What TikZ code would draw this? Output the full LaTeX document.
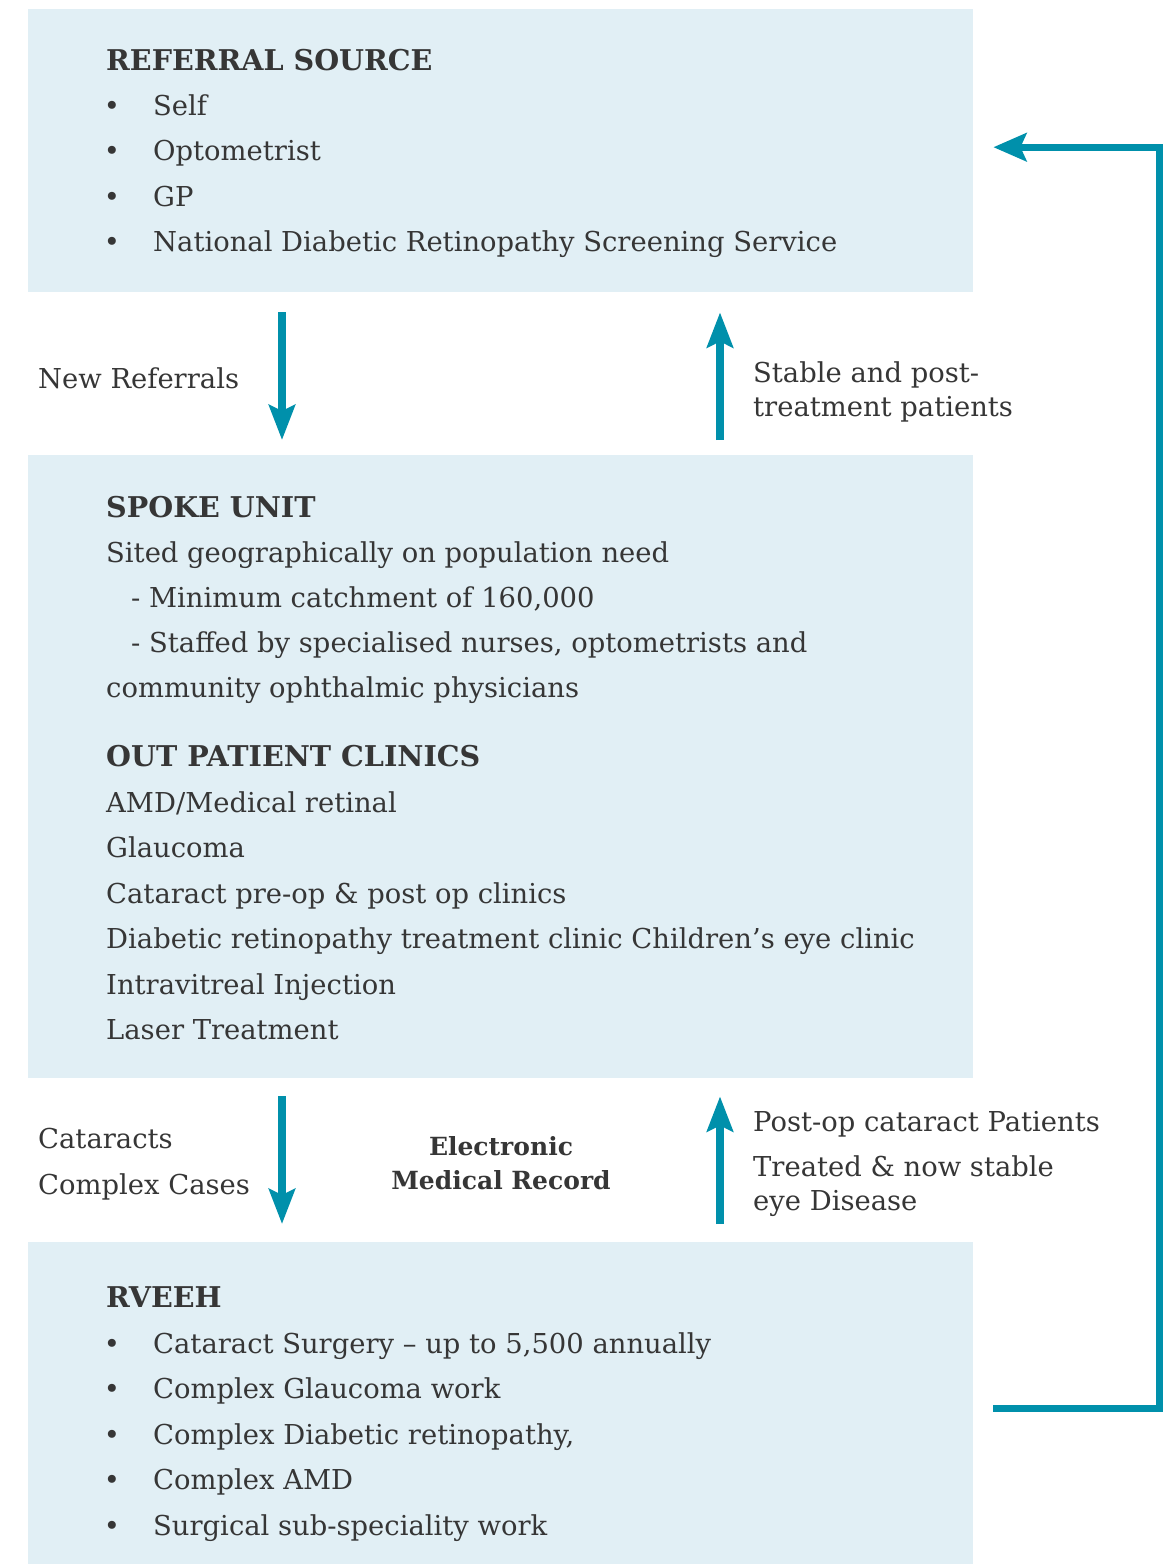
\documentclass[tikz,border=0pt]{standalone}
\usepackage{fontspec}
\setmainfont{DejaVu Serif}
\usetikzlibrary{arrows.meta}
\definecolor{boxblue}{HTML}{E1EFF5}
\definecolor{flowteal}{HTML}{0090AB}
\definecolor{ink}{HTML}{363636}
\begin{document}
\begin{tikzpicture}[x=1pt, y=-1pt, line join=miter,
  panel/.style={fill=boxblue, draw=none, anchor=north west, inner sep=0, minimum width=945pt},
  txt/.style={anchor=base west, inner sep=0, text=ink, font=\fontsize{27.4}{32}\selectfont},
  head/.style={txt, font=\fontsize{28.6}{33}\selectfont\bfseries},
  dot/.style={txt, anchor=base},
  emr/.style={txt, anchor=base, font=\fontsize{25}{29}\selectfont\bfseries},
  flow/.style={draw=flowteal, line width=8pt, -{Stealth[length=35pt,width=26pt,inset=6pt]}}]
\useasboundingbox (0,0) rectangle (1167,1564);
\def\lh{45.5}
%Ba khung
\node[panel, minimum height=283pt] (ref) at (28,9) {};
\node[panel, minimum height=623pt] (spoke) at (28,455) {};
\node[panel, minimum height=322pt] (rveeh) at (28,1242) {};
%Nguon gioi thieu
\node[head] (refhead) at (106,70) {REFERRAL SOURCE};
\foreach \t [count=\i] in {Self, Optometrist, GP, National Diabetic Retinopathy Screening Service}{
  \node[dot] (refdot\i) at (112,{115+\lh*(\i-1)}) {\textbullet};
  \node[txt] (refitem\i) at (153,{115+\lh*(\i-1)}) {\t};
}
%Spoke unit
\node[head] (spokehead) at (106,517) {SPOKE UNIT};
\node[txt] (site) at (106,562) {Sited geographically on population need};
\node[txt] (catch) at (131,607) {- Minimum catchment of 160,000};
\node[txt] (staff) at (131,652) {- Staffed by specialised nurses, optometrists and};
\node[txt] (comm) at (106,697) {community ophthalmic physicians};
\node[head] (ophead) at (106,766) {OUT PATIENT CLINICS};
\foreach \t [count=\i] in {AMD/Medical retinal, Glaucoma, Cataract pre-op \& post op clinics,
  Diabetic retinopathy treatment clinic Children’s eye clinic, Intravitreal Injection, Laser Treatment}{
  \node[txt] (clinic\i) at (106,{812+\lh*(\i-1)}) {\t};
}
%RVEEH
\node[head] (rvhead) at (106,1307) {RVEEH};
\foreach \t [count=\i] in {{Cataract Surgery – up to 5,500 annually}, Complex Glaucoma work,
  {Complex Diabetic retinopathy,}, Complex AMD, Surgical sub-speciality work}{
  \node[dot] (rvdot\i) at (112,{1353+\lh*(\i-1)}) {\textbullet};
  \node[txt] (rvitem\i) at (153,{1353+\lh*(\i-1)}) {\t};
}
%Mui ten giua cac khung
\draw[flow] ([xshift=254pt,yshift=-20pt]ref.south west) -- ([xshift=254pt,yshift=15pt]spoke.north west);
\draw[flow] ([xshift=692pt,yshift=15pt]spoke.north west) -- ([xshift=692pt,yshift=-20pt]ref.south west);
\draw[flow] ([xshift=254pt,yshift=-18pt]spoke.south west) -- ([xshift=254pt,yshift=18pt]rveeh.north west);
\draw[flow] ([xshift=692pt,yshift=18pt]rveeh.north west) -- ([xshift=692pt,yshift=-18pt]spoke.south west);
\draw[flow, line width=7pt, -{Stealth[length=33pt,width=28pt,inset=6pt]}]
  ([xshift=20pt,yshift=-5pt]rveeh.east) -- ++(166,0) |- ([xshift=20pt,yshift=3.5pt]ref.east);
%Nhan
\node[txt] (newref) at (38,388) {New Referrals};
\node[txt] (stable1) at (753,382) {Stable and post-};
\node[txt] (stable2) at (753,416) {treatment patients};
\node[txt] (cat) at (38,1148) {Cataracts};
\node[txt] (cplx) at (38,1194) {Complex Cases};
\node[emr] (emr1) at (501,1155) {Electronic};
\node[emr] (emr2) at (501,1189) {Medical Record};
\node[txt] (postop) at (753,1131) {Post-op cataract Patients};
\node[txt] (treat1) at (753,1176) {Treated \& now stable};
\node[txt] (treat2) at (753,1210) {eye Disease};
\end{tikzpicture}
\end{document}
